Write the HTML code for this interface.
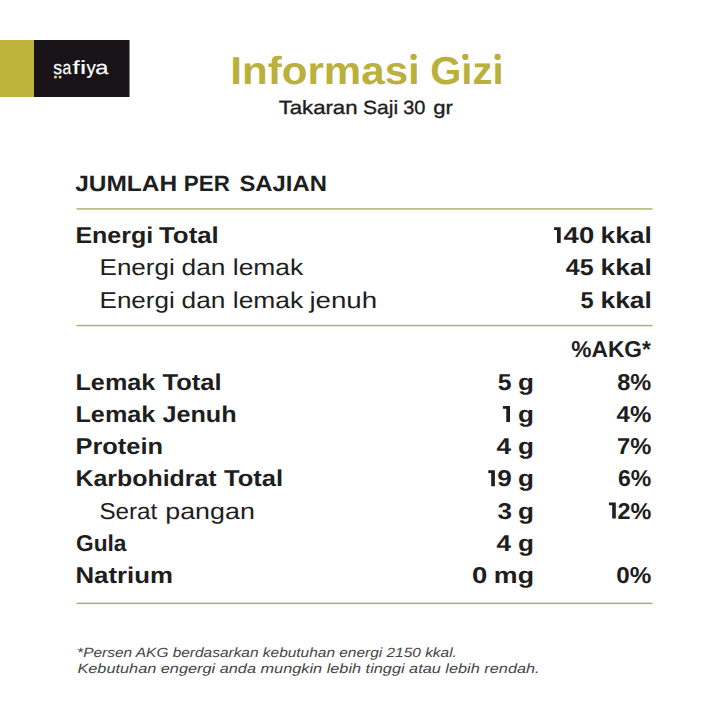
<!DOCTYPE html>
<html><head><meta charset="utf-8">
<style>
html,body{margin:0;padding:0;background:#fff;}
body{width:726px;height:726px;overflow:hidden;}
svg{display:block;font-family:"Liberation Sans",sans-serif;text-rendering:geometricPrecision;}
</style></head>
<body>
<svg width="726" height="726" viewBox="0 0 726 726">
<rect x="0" y="0" width="726" height="726" fill="#ffffff"/>
<rect x="0" y="40" width="34" height="57" fill="#BDB23A"/>
<rect x="34" y="40" width="95.5" height="57" fill="#171316"/>
<rect x="76.5" y="208.2" width="576" height="1.5" fill="#B2AD72"/>
<rect x="76.5" y="324.8" width="576" height="1.5" fill="#B2AD72"/>
<rect x="76.5" y="602.6" width="576" height="1.5" fill="#B2AD72"/>
<circle cx="55.5" cy="76.9" r="1.5" fill="#E3D98A"/>
<circle cx="60.1" cy="76.9" r="1.5" fill="#E3D98A"/>
<text x="230.38" y="83.70" font-size="38.954" font-weight="bold" font-style="normal" fill="#BAB03C" textLength="189.38" lengthAdjust="spacingAndGlyphs">Informası</text>
<text x="430.20" y="83.70" font-size="38.954" font-weight="bold" font-style="normal" fill="#BAB03C" textLength="73.31" lengthAdjust="spacingAndGlyphs">Gızı</text>
<text x="278.66" y="113.70" font-size="19.186" font-weight="normal" font-style="normal" fill="#1e1e1e" stroke="#1e1e1e" stroke-width="0.35" textLength="78.89" lengthAdjust="spacingAndGlyphs">Takaran</text>
<text x="363.06" y="113.70" font-size="19.186" font-weight="normal" font-style="normal" fill="#1e1e1e" stroke="#1e1e1e" stroke-width="0.35" textLength="35.15" lengthAdjust="spacingAndGlyphs">Saji</text>
<text x="403.20" y="113.70" font-size="19.186" font-weight="normal" font-style="normal" fill="#1e1e1e" stroke="#1e1e1e" stroke-width="0.35" textLength="22.22" lengthAdjust="spacingAndGlyphs">30</text>
<text x="433.21" y="113.70" font-size="19.186" font-weight="normal" font-style="normal" fill="#1e1e1e" stroke="#1e1e1e" stroke-width="0.35" textLength="19.67" lengthAdjust="spacingAndGlyphs">gr</text>
<text x="75.16" y="190.80" font-size="22.093" font-weight="bold" font-style="normal" fill="#1e1e1e" textLength="101.97" lengthAdjust="spacingAndGlyphs">JUMLAH</text>
<text x="183.86" y="190.80" font-size="22.093" font-weight="bold" font-style="normal" fill="#1e1e1e" textLength="46.02" lengthAdjust="spacingAndGlyphs">PER</text>
<text x="239.42" y="190.80" font-size="22.093" font-weight="bold" font-style="normal" fill="#1e1e1e" textLength="87.46" lengthAdjust="spacingAndGlyphs">SAJIAN</text>
<text x="75.40" y="242.90" font-size="22.966" font-weight="bold" font-style="normal" fill="#1e1e1e" textLength="77.90" lengthAdjust="spacingAndGlyphs">Energi</text>
<text x="159.04" y="242.90" font-size="22.966" font-weight="bold" font-style="normal" fill="#1e1e1e" textLength="59.71" lengthAdjust="spacingAndGlyphs">Total</text>
<text x="563.63" y="242.90" font-size="22.966" font-weight="bold" font-style="normal" fill="#1e1e1e" textLength="30.57" lengthAdjust="spacingAndGlyphs">40</text>
<text x="600.52" y="242.90" font-size="22.966" font-weight="bold" font-style="normal" fill="#1e1e1e" textLength="51.37" lengthAdjust="spacingAndGlyphs">kkal</text>
<text x="99.52" y="275.20" font-size="22.966" font-weight="normal" font-style="normal" fill="#1e1e1e" textLength="75.30" lengthAdjust="spacingAndGlyphs">Energi</text>
<text x="181.55" y="275.20" font-size="22.966" font-weight="normal" font-style="normal" fill="#1e1e1e" textLength="43.83" lengthAdjust="spacingAndGlyphs">dan</text>
<text x="232.82" y="275.20" font-size="22.966" font-weight="normal" font-style="normal" fill="#1e1e1e" textLength="70.42" lengthAdjust="spacingAndGlyphs">lemak</text>
<text x="565.85" y="275.20" font-size="22.966" font-weight="bold" font-style="normal" fill="#1e1e1e" textLength="27.80" lengthAdjust="spacingAndGlyphs">45</text>
<text x="600.52" y="275.20" font-size="22.966" font-weight="bold" font-style="normal" fill="#1e1e1e" textLength="51.37" lengthAdjust="spacingAndGlyphs">kkal</text>
<text x="99.52" y="307.60" font-size="22.966" font-weight="normal" font-style="normal" fill="#1e1e1e" textLength="75.30" lengthAdjust="spacingAndGlyphs">Energi</text>
<text x="181.55" y="307.60" font-size="22.966" font-weight="normal" font-style="normal" fill="#1e1e1e" textLength="43.83" lengthAdjust="spacingAndGlyphs">dan</text>
<text x="232.82" y="307.60" font-size="22.966" font-weight="normal" font-style="normal" fill="#1e1e1e" textLength="70.42" lengthAdjust="spacingAndGlyphs">lemak</text>
<text x="309.43" y="307.60" font-size="22.966" font-weight="normal" font-style="normal" fill="#1e1e1e" textLength="67.72" lengthAdjust="spacingAndGlyphs">jenuh</text>
<text x="580.49" y="307.60" font-size="22.966" font-weight="bold" font-style="normal" fill="#1e1e1e" textLength="13.13" lengthAdjust="spacingAndGlyphs">5</text>
<text x="600.52" y="307.60" font-size="22.966" font-weight="bold" font-style="normal" fill="#1e1e1e" textLength="51.37" lengthAdjust="spacingAndGlyphs">kkal</text>
<text x="571.25" y="356.50" font-size="22.966" font-weight="bold" font-style="normal" fill="#1e1e1e" textLength="79.64" lengthAdjust="spacingAndGlyphs">%AKG*</text>
<text x="75.49" y="389.60" font-size="22.966" font-weight="bold" font-style="normal" fill="#1e1e1e" textLength="79.81" lengthAdjust="spacingAndGlyphs">Lemak</text>
<text x="162.44" y="389.60" font-size="22.966" font-weight="bold" font-style="normal" fill="#1e1e1e" textLength="59.09" lengthAdjust="spacingAndGlyphs">Total</text>
<text x="497.76" y="389.60" font-size="22.966" font-weight="bold" font-style="normal" fill="#1e1e1e" textLength="13.79" lengthAdjust="spacingAndGlyphs">5</text>
<text x="517.96" y="389.60" font-size="22.966" font-weight="bold" font-style="normal" fill="#1e1e1e" textLength="15.93" lengthAdjust="spacingAndGlyphs">g</text>
<text x="617.19" y="389.60" font-size="22.966" font-weight="bold" font-style="normal" fill="#1e1e1e" textLength="34.06" lengthAdjust="spacingAndGlyphs">8%</text>
<text x="75.49" y="422.00" font-size="22.966" font-weight="bold" font-style="normal" fill="#1e1e1e" textLength="79.81" lengthAdjust="spacingAndGlyphs">Lemak</text>
<text x="162.45" y="422.00" font-size="22.966" font-weight="bold" font-style="normal" fill="#1e1e1e" textLength="74.18" lengthAdjust="spacingAndGlyphs">Jenuh</text>
<text x="517.96" y="422.00" font-size="22.966" font-weight="bold" font-style="normal" fill="#1e1e1e" textLength="15.93" lengthAdjust="spacingAndGlyphs">g</text>
<text x="616.56" y="422.00" font-size="22.966" font-weight="bold" font-style="normal" fill="#1e1e1e" textLength="34.70" lengthAdjust="spacingAndGlyphs">4%</text>
<text x="75.47" y="454.30" font-size="22.966" font-weight="bold" font-style="normal" fill="#1e1e1e" textLength="87.57" lengthAdjust="spacingAndGlyphs">Protein</text>
<text x="496.54" y="454.30" font-size="22.966" font-weight="bold" font-style="normal" fill="#1e1e1e" textLength="14.56" lengthAdjust="spacingAndGlyphs">4</text>
<text x="517.96" y="454.30" font-size="22.966" font-weight="bold" font-style="normal" fill="#1e1e1e" textLength="15.93" lengthAdjust="spacingAndGlyphs">g</text>
<text x="616.95" y="454.30" font-size="22.966" font-weight="bold" font-style="normal" fill="#1e1e1e" textLength="34.30" lengthAdjust="spacingAndGlyphs">7%</text>
<text x="75.51" y="486.30" font-size="22.966" font-weight="bold" font-style="normal" fill="#1e1e1e" textLength="141.17" lengthAdjust="spacingAndGlyphs">Karbohidrat</text>
<text x="224.04" y="486.30" font-size="22.966" font-weight="bold" font-style="normal" fill="#1e1e1e" textLength="59.09" lengthAdjust="spacingAndGlyphs">Total</text>
<text x="497.32" y="486.30" font-size="22.966" font-weight="bold" font-style="normal" fill="#1e1e1e" textLength="14.53" lengthAdjust="spacingAndGlyphs">9</text>
<text x="517.96" y="486.30" font-size="22.966" font-weight="bold" font-style="normal" fill="#1e1e1e" textLength="15.93" lengthAdjust="spacingAndGlyphs">g</text>
<text x="617.91" y="486.30" font-size="22.966" font-weight="bold" font-style="normal" fill="#1e1e1e" textLength="33.33" lengthAdjust="spacingAndGlyphs">6%</text>
<text x="99.43" y="518.60" font-size="22.966" font-weight="normal" font-style="normal" fill="#1e1e1e" textLength="57.92" lengthAdjust="spacingAndGlyphs">Serat</text>
<text x="165.29" y="518.60" font-size="22.966" font-weight="normal" font-style="normal" fill="#1e1e1e" textLength="89.52" lengthAdjust="spacingAndGlyphs">pangan</text>
<text x="497.48" y="518.60" font-size="22.966" font-weight="bold" font-style="normal" fill="#1e1e1e" textLength="14.46" lengthAdjust="spacingAndGlyphs">3</text>
<text x="517.96" y="518.60" font-size="22.966" font-weight="bold" font-style="normal" fill="#1e1e1e" textLength="15.93" lengthAdjust="spacingAndGlyphs">g</text>
<text x="617.40" y="518.60" font-size="22.966" font-weight="bold" font-style="normal" fill="#1e1e1e" textLength="33.85" lengthAdjust="spacingAndGlyphs">2%</text>
<text x="76.09" y="550.80" font-size="22.966" font-weight="bold" font-style="normal" fill="#1e1e1e" textLength="50.39" lengthAdjust="spacingAndGlyphs">Gula</text>
<text x="496.54" y="550.80" font-size="22.966" font-weight="bold" font-style="normal" fill="#1e1e1e" textLength="14.56" lengthAdjust="spacingAndGlyphs">4</text>
<text x="517.96" y="550.80" font-size="22.966" font-weight="bold" font-style="normal" fill="#1e1e1e" textLength="15.93" lengthAdjust="spacingAndGlyphs">g</text>
<text x="75.45" y="583.00" font-size="22.966" font-weight="bold" font-style="normal" fill="#1e1e1e" textLength="97.47" lengthAdjust="spacingAndGlyphs">Natrium</text>
<text x="471.97" y="583.00" font-size="22.966" font-weight="bold" font-style="normal" fill="#1e1e1e" textLength="15.32" lengthAdjust="spacingAndGlyphs">0</text>
<text x="493.89" y="583.00" font-size="22.966" font-weight="bold" font-style="normal" fill="#1e1e1e" textLength="40.13" lengthAdjust="spacingAndGlyphs">mg</text>
<text x="616.17" y="583.00" font-size="22.966" font-weight="bold" font-style="normal" fill="#1e1e1e" textLength="35.09" lengthAdjust="spacingAndGlyphs">0%</text>
<text x="53.34" y="73.80" font-size="18.896" font-weight="normal" font-style="normal" fill="#ffffff" stroke="#ffffff" stroke-width="0.2" textLength="8.89" lengthAdjust="spacingAndGlyphs">s</text>
<text x="62.57" y="73.80" font-size="18.896" font-weight="normal" font-style="normal" fill="#ffffff" stroke="#ffffff" stroke-width="0.2" textLength="8.77" lengthAdjust="spacingAndGlyphs">a</text>
<text x="72.44" y="73.80" font-size="18.896" font-weight="normal" font-style="normal" fill="#ffffff" stroke="#ffffff" stroke-width="0.2" textLength="7.10" lengthAdjust="spacingAndGlyphs">f</text>
<text x="79.92" y="73.80" font-size="18.896" font-weight="normal" font-style="normal" fill="#ffffff" stroke="#ffffff" stroke-width="0.2" textLength="6.22" lengthAdjust="spacingAndGlyphs">i</text>
<text x="86.60" y="73.80" font-size="18.896" font-weight="normal" font-style="normal" fill="#ffffff" stroke="#ffffff" stroke-width="0.2" textLength="9.30" lengthAdjust="spacingAndGlyphs">y</text>
<text x="95.35" y="73.80" font-size="18.896" font-weight="normal" font-style="normal" fill="#ffffff" stroke="#ffffff" stroke-width="0.2" textLength="13.16" lengthAdjust="spacingAndGlyphs">a</text>
<text x="77.13" y="657.10" font-size="13.372" font-weight="normal" font-style="italic" fill="#454545" textLength="379.79" lengthAdjust="spacingAndGlyphs">*Persen AKG berdasarkan kebutuhan energi 2150 kkal.</text>
<text x="77.41" y="673.30" font-size="13.372" font-weight="normal" font-style="italic" fill="#454545" textLength="462.21" lengthAdjust="spacingAndGlyphs">Kebutuhan engergi anda mungkin lebih tinggi atau lebih rendah.</text>
<path d="M502.90 406.00H510.00V422.00H506.30V408.70H502.90Z" fill="#1e1e1e"/>
<path d="M554.00 227.20H560.70V242.90H557.00V229.90H554.00Z" fill="#1e1e1e"/>
<path d="M488.30 470.30H494.90V486.30H491.20V473.00H488.30Z" fill="#1e1e1e"/>
<path d="M608.90 502.60H615.80V518.60H612.20V505.30H608.90Z" fill="#1e1e1e"/>
<circle cx="413.6" cy="56.9" r="3.15" fill="#BAB03C"/>
<circle cx="465.3" cy="56.9" r="3.15" fill="#BAB03C"/>
<circle cx="497.6" cy="56.9" r="3.15" fill="#BAB03C"/>
</svg>
</body></html>
